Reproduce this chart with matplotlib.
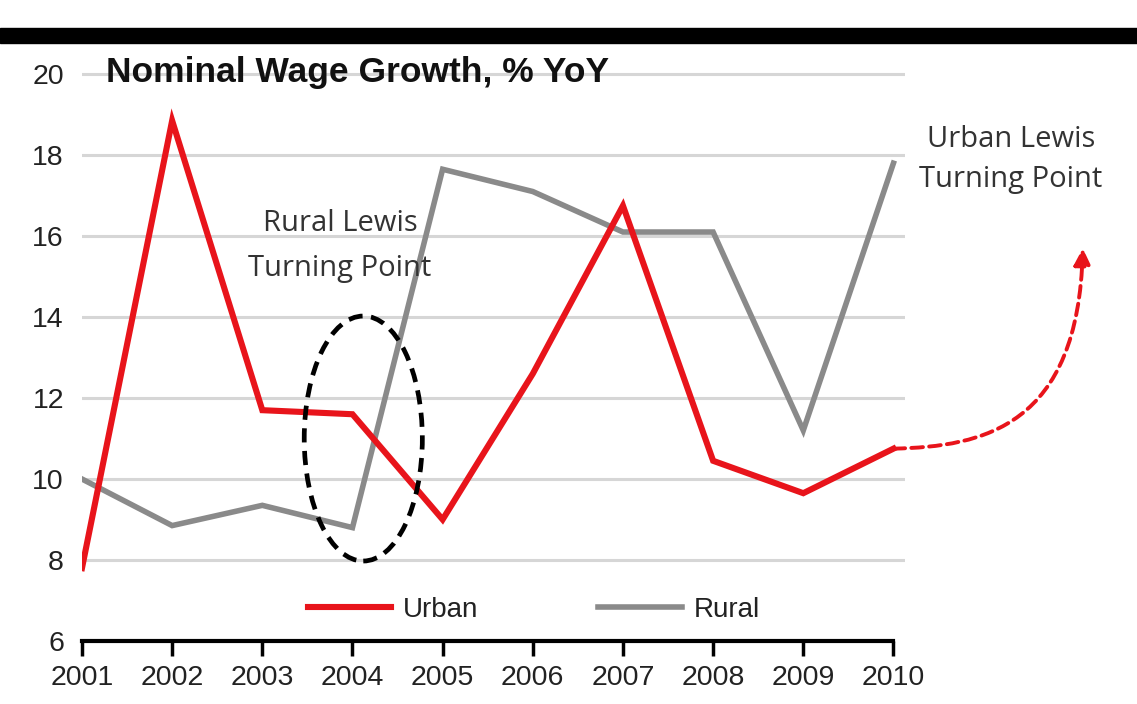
import numpy as np
import matplotlib
matplotlib.use("Agg")
import matplotlib.pyplot as plt
from matplotlib.patches import Ellipse, Rectangle, FancyArrowPatch
from matplotlib.path import Path

years = [2001, 2002, 2003, 2004, 2005, 2006, 2007, 2008, 2009, 2010]
urban = [7.8, 18.85, 11.7, 11.6, 9.0, 12.6, 16.75, 10.45, 9.65, 10.75]
rural = [10.0, 8.85, 9.35, 8.8, 17.65, 17.1, 16.1, 16.1, 11.2, 17.8]
yticks = [6, 8, 10, 12, 14, 16, 18, 20]

plt.rcParams['font.family'] = ['Liberation Sans', 'DejaVu Sans']

fig = plt.figure(figsize=(11.37, 7.04), dpi=100)
ax = fig.add_axes([0.0721, 0.0895, 0.724, 0.8225])

for v in yticks[1:]:
    ax.axhline(v, color='#d6d6d6', lw=2.2, zorder=0)

ax.plot(years, urban, color='#e8141b', lw=4.4, label='Urban', zorder=3, solid_joinstyle='miter')
ax.plot(years, rural, color='#8a8a8a', lw=4.0, label='Rural', zorder=2, solid_joinstyle='miter')

ax.set_xlim(2001, 2010.13)
ax.set_ylim(6, 20.3)
ax.set_xticks(years)
ax.set_yticks(yticks)
ax.tick_params(axis='y', length=0, pad=13, labelsize=20.5, colors='#222222')
ax.tick_params(axis='x', length=11, width=2.5, direction='out', pad=6, labelsize=20.5,
               colors='black', labelcolor='#222222')
for s in ['top', 'right', 'left']:
    ax.spines[s].set_visible(False)
ax.spines['bottom'].set_linewidth(3)
ax.spines['bottom'].set_bounds(2001, 2010)

ax.text(2001.27, 20.05, 'Nominal Wage Growth, % YoY', fontsize=25.5, fontweight='bold',
        color='#111111', va='center', ha='left', zorder=4)

leg = ax.legend(loc='lower center', bbox_to_anchor=(0.549, -0.012), ncol=2, frameon=False,
                fontsize=20, handlelength=3.0, columnspacing=4.3, handletextpad=0.45)
for t in leg.get_texts():
    t.set_color('#222222')

ax.text(2003.86, 15.75, 'Rural Lewis\nTurning Point', fontsize=21, color='#333333',
        ha='center', va='center', family=['Open Sans', 'DejaVu Sans'], linespacing=1.7)
ax.text(2011.3, 17.9, 'Urban Lewis\nTurning Point', fontsize=21, color='#333333',
        ha='center', va='center', family=['Open Sans', 'DejaVu Sans'], linespacing=1.5,
        clip_on=False)

ell = Ellipse((2004.12, 11.0), 1.31, 6.05, fill=False, ec='black', lw=3.4,
              ls=(0, (3, 1.8)), zorder=5, clip_on=False)
ax.add_patch(ell)

curve = Path([(years[-1], urban[-1]), (2011.0, 10.8), (2012.05, 11.3), (2012.1, 15.7)],
             [Path.MOVETO, Path.CURVE4, Path.CURVE4, Path.CURVE4])
arr = FancyArrowPatch(path=curve, transform=ax.transData,
                      arrowstyle='-|>,head_length=10,head_width=5',
                      color='#e8141b', lw=2.8, ls=(0, (3, 1.6)), clip_on=False, zorder=4)
ax.add_patch(arr)

fig.add_artist(Rectangle((0, 0.939), 1, 0.021, transform=fig.transFigure,
                         color='black', zorder=10))

fig.savefig('out.png', dpi=100)
